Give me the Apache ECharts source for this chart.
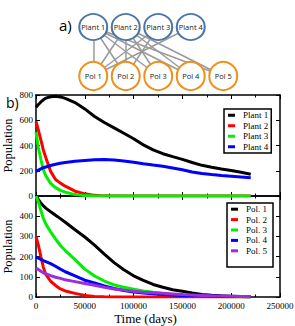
<!DOCTYPE html>
<html>
<head>
<meta charset="utf-8">
<script src="https://cdn.jsdelivr.net/npm/echarts@6/dist/echarts.min.js"></script>
<style>html,body{margin:0;padding:0;background:#fff}#c{width:295px;height:326px}</style>
</head>
<body>
<div id="c"></div>
<script>
// ---- data ----
const days = [0, 2500, 5000, 7500, 10000, 15000, 20000, 25000, 30000, 40000, 50000, 60000, 70000, 80000, 90000, 100000, 110000, 120000, 130000, 140000, 150000, 160000, 170000, 180000, 190000, 200000, 210000, 220000];

const plantNames = ['Plant 1', 'Plant 2', 'Plant 3', 'Plant 4'];
const plant1 = [703, 725, 745, 762, 775, 786, 790, 785, 773, 740, 690, 630, 582, 540, 497, 453, 405, 365, 335, 312, 290, 265, 243, 228, 214, 202, 188, 172];
const plant2 = [590, 520, 445, 365, 305, 195, 130, 102, 78, 38, 17, 5, 1, 0, 0, 0, 0, 0, 0, 0, 0, 0, 0, 0, 0, 0, 0, 0];
const plant3 = [505, 380, 290, 208, 160, 100, 66, 45, 30, 11, 3, 0, 0, 0, 0, 0, 0, 0, 0, 0, 0, 0, 0, 0, 0, 0, 0, 0];
const plant4 = [195, 205, 215, 224, 230, 242, 252, 259, 266, 276, 282, 288, 290, 286, 278, 268, 256, 245, 236, 222, 208, 190, 178, 170, 163, 157, 151, 145];

const polNames = ['Pol. 1', 'Pol. 2', 'Pol. 3', 'Pol. 4', 'Pol. 5'];
const pol1 = [500, 482, 465, 452, 440, 422, 405, 388, 370, 333, 297, 257, 212, 170, 135, 105, 82, 62, 48, 36, 28, 20, 13, 9, 6, 4, 2, 1];
const pol2 = [300, 255, 200, 148, 112, 78, 57, 40, 30, 18, 8, 3, 1, 0, 0, 0, 0, 0, 0, 0, 0, 0, 0, 0, 0, 0, 0, 0];
const pol3 = [500, 470, 428, 390, 362, 322, 288, 255, 230, 185, 138, 104, 79, 60, 48, 38, 30, 23, 17, 12, 9, 6, 4, 3, 2, 1, 1, 0];
const pol4 = [197, 192, 186, 180, 175, 165, 152, 138, 125, 104, 83, 70, 55, 42, 32, 25, 20, 16, 12, 10, 8, 6, 5, 4, 3, 2, 2, 1];
const pol5 = [143, 136, 128, 120, 115, 106, 98, 92, 85, 76, 67, 58, 48, 40, 34, 28, 24, 21, 18, 15, 12, 10, 8, 6, 5, 4, 3, 2];

const xTicks = [0, 50000, 100000, 150000, 200000, 250000];
const yTicksTop = [0, 200, 400, 600, 800];
const yTicksBottom = [0, 100, 200, 300, 400, 500];

// network (a)
const netPlants = ['Plant 1', 'Plant 2', 'Plant 3', 'Plant 4'];
const netPols = ['Pol 1', 'Pol 2', 'Pol 3', 'Pol 4', 'Pol 5'];
const netLinks = [
  ['Plant 1', 'Pol 1'], ['Plant 1', 'Pol 2'], ['Plant 1', 'Pol 3'], ['Plant 1', 'Pol 4'], ['Plant 1', 'Pol 5'],
  ['Plant 2', 'Pol 1'], ['Plant 2', 'Pol 2'], ['Plant 2', 'Pol 3'], ['Plant 2', 'Pol 4'], ['Plant 2', 'Pol 5'],
  ['Plant 3', 'Pol 1'], ['Plant 3', 'Pol 2'],
  ['Plant 4', 'Pol 1']
];

const plantColors = ['#000000', '#ff0000', '#00ee00', '#0000ff'];
const polColors = ['#000000', '#ff0000', '#00ee00', '#0000ff', '#9a2ede'];

// ---- chart ----
const serif = 'Liberation Serif';
const chart = echarts.init(document.getElementById('c'), null, {renderer: 'svg'});
const plain = v => String(v);

function frameX(grid, pos, labels, extra) {
  return Object.assign({
    type: 'value', gridIndex: grid, position: pos, min: xTicks[0], max: xTicks[xTicks.length - 1],
    interval: xTicks[1] - xTicks[0],
    axisLine: {show: true, onZero: false, lineStyle: {color: '#000', width: 1.5}},
    axisTick: {show: true, inside: true, length: 4, lineStyle: {color: '#000', width: 1}},
    minorTick: {show: true, splitNumber: 2, length: 2.5, lineStyle: {color: '#000', width: 1}},
    splitLine: {show: false},
    axisLabel: {show: labels, margin: 4, fontFamily: serif, fontSize: 9, color: '#000', hideOverlap: false, formatter: plain}
  }, extra || {});
}
function frameY(grid, pos, ticks, labels, extra) {
  return Object.assign({
    type: 'value', gridIndex: grid, position: pos, min: ticks[0], max: ticks[ticks.length - 1],
    interval: ticks[1] - ticks[0],
    axisLine: {show: true, onZero: false, lineStyle: {color: '#000', width: 1.5}},
    axisTick: {show: true, inside: true, length: 4, lineStyle: {color: '#000', width: 1}},
    splitLine: {show: false},
    axisLabel: {show: labels, margin: 3, fontFamily: serif, fontSize: 9, color: '#000', formatter: plain}
  }, extra || {});
}

const yName = {
  name: 'Population', nameLocation: 'middle', nameGap: 22, nameRotate: 90, nameMoveOverlap: false,
  nameTextStyle: {fontFamily: serif, fontSize: 12.5, color: '#000'}
};

const series = [];
[plant1, plant2, plant3, plant4].forEach((arr, i) => {
  series.push({
    name: plantNames[i], type: 'line', xAxisIndex: 0, yAxisIndex: 0, showSymbol: false, symbol: 'none',
    data: days.map((t, k) => [t, arr[k]]), lineStyle: {width: 3, color: plantColors[i]}, itemStyle: {color: plantColors[i]},
    z: 3, animation: false
  });
});
[pol1, pol2, pol3, pol4, pol5].forEach((arr, i) => {
  series.push({
    name: polNames[i], type: 'line', xAxisIndex: 2, yAxisIndex: 2, showSymbol: false, symbol: 'none',
    data: days.map((t, k) => [t, arr[k]]), lineStyle: {width: 3, color: polColors[i]}, itemStyle: {color: polColors[i]},
    z: 3, animation: false
  });
});

const nodes = [];
netPlants.forEach((n, i) => nodes.push({
  name: n, value: [i, 1], symbolSize: [28, 26],
  itemStyle: {color: '#fff', borderColor: '#4a76a8', borderWidth: 2}
}));
netPols.forEach((n, i) => nodes.push({
  name: n, value: [i, 0], symbolSize: [28, 28],
  itemStyle: {color: '#fff', borderColor: '#f0901c', borderWidth: 2}
}));
series.push({
  type: 'graph', coordinateSystem: 'cartesian2d', xAxisIndex: 4, yAxisIndex: 4,
  symbol: 'circle', data: nodes,
  links: netLinks.map(l => ({source: l[0], target: l[1]})),
  lineStyle: {color: '#9a9a9a', width: 1.5, opacity: 1},
  label: {show: true, position: 'inside', fontFamily: 'Open Sans', fontSize: 7.5, color: '#222'},
  emphasis: {disabled: true}, animation: false, silent: true
});

const legendBase = {
  orient: 'vertical', icon: 'rect', itemWidth: 7, itemHeight: 3, itemGap: 0,
  borderColor: '#000', borderWidth: 1.5, backgroundColor: '#fff', borderRadius: 0,
  selectedMode: false,
  textStyle: {fontFamily: serif, fontSize: 9, color: '#000', lineHeight: 10.5, padding: [0, 0, 0, 3]}
};

const gridBase = {containLabel: false, outerBoundsMode: 'none'};

chart.setOption({
  animation: false,
  backgroundColor: '#fff',
  title: [
    {text: 'a)', left: 54, top: 12, textStyle: {fontFamily: 'Open Sans', fontSize: 15, fontWeight: 'normal', color: '#000'}},
    {text: 'b)', left: 1, top: 90, textStyle: {fontFamily: 'Open Sans', fontSize: 14, fontWeight: 'normal', color: '#000'}}
  ],
  grid: [
    Object.assign({left: 36, right: 15, top: 95, height: 101}, gridBase),
    Object.assign({left: 36, right: 15, top: 196, height: 101}, gridBase),
    Object.assign({left: 77, top: 27, width: 162.5, height: 49}, gridBase)
  ],
  xAxis: [
    frameX(0, 'bottom', false),
    frameX(0, 'top', false),
    frameX(1, 'bottom', true, {
      name: 'Time (days)', nameLocation: 'middle', nameGap: 15, nameMoveOverlap: false,
      nameTextStyle: {fontFamily: serif, fontSize: 13, color: '#000', padding: [0, 25, 0, 0]}
    }),
    frameX(1, 'top', false),
    {type: 'value', gridIndex: 2, min: -0.5, max: 4.5, show: false}
  ],
  yAxis: [
    frameY(0, 'left', yTicksTop, true, yName),
    frameY(0, 'right', yTicksTop, false),
    frameY(1, 'left', yTicksBottom, true, Object.assign({}, yName, {
      axisLabel: {show: true, margin: 3, fontFamily: serif, fontSize: 9, color: '#000', showMaxLabel: false, formatter: plain}
    })),
    frameY(1, 'right', yTicksBottom, false),
    {type: 'value', gridIndex: 2, min: 0, max: 1, show: false}
  ],
  legend: [
    Object.assign({}, legendBase, {data: plantNames, left: 224, top: 109, padding: [1, 3, 1, 4]}),
    Object.assign({}, legendBase, {data: polNames, left: 227, top: 203, padding: [1, 6, 11, 4],
      textStyle: Object.assign({}, legendBase.textStyle, {lineHeight: 10.4})})
  ],
  series: series
});
</script>
</body>
</html>
